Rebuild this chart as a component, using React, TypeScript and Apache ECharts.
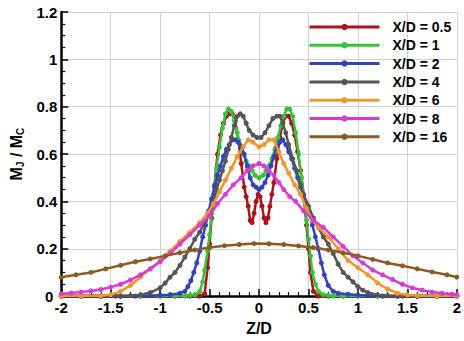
import React, { useEffect, useRef } from "react";
import * as echarts from "echarts";

const seriesNames = ["X/D = 0.5", "X/D = 1", "X/D = 2", "X/D = 4", "X/D = 6", "X/D = 8", "X/D = 16"];
const seriesColors = ["#a8141a", "#36c23a", "#3440c0", "#555555", "#f0962e", "#d83ad8", "#8c5a22"];

const xTicks = ["-2", "-1.5", "-1", "-0.5", "0", "0.5", "1", "1.5", "2"];
const yTicks = ["0", "0.2", "0.4", "0.6", "0.8", "1", "1.2"];

const xd05 = [
  [-2, 0], [-1.8, 0], [-1.6, 0], [-1.4, 0], [-1.2, 0], [-1.0, 0], [-0.85, 0], [-0.7, 0], [-0.6, 0],
  [-0.55, 0.01], [-0.52, 0.12], [-0.5, 0.22], [-0.48, 0.33], [-0.45, 0.47], [-0.42, 0.6], [-0.39, 0.68],
  [-0.36, 0.73], [-0.33, 0.76], [-0.3, 0.77], [-0.27, 0.77], [-0.24, 0.74], [-0.21, 0.66], [-0.18, 0.56],
  [-0.15, 0.46], [-0.13, 0.42], [-0.11, 0.38], [-0.09, 0.32], [-0.07, 0.31], [-0.05, 0.35], [-0.03, 0.4],
  [-0.01, 0.43], [0.01, 0.42], [0.03, 0.38], [0.05, 0.33], [0.07, 0.31], [0.09, 0.33], [0.11, 0.38],
  [0.13, 0.43], [0.15, 0.48], [0.18, 0.58], [0.21, 0.67], [0.24, 0.73], [0.27, 0.76], [0.3, 0.76],
  [0.33, 0.73], [0.36, 0.68], [0.39, 0.61], [0.42, 0.53], [0.45, 0.43], [0.48, 0.3], [0.5, 0.2],
  [0.52, 0.1], [0.55, 0.02], [0.6, 0], [0.7, 0], [0.85, 0], [1.0, 0], [1.2, 0], [1.4, 0], [1.6, 0], [1.8, 0], [2, 0],
];

const xd1 = [
  [-2, 0], [-1.8, 0], [-1.6, 0], [-1.4, 0], [-1.2, 0], [-1.0, 0], [-0.85, 0], [-0.75, 0], [-0.7, 0.003],
  [-0.65, 0.006], [-0.6, 0.02], [-0.57, 0.06], [-0.55, 0.11], [-0.52, 0.19], [-0.5, 0.26], [-0.48, 0.35],
  [-0.46, 0.43], [-0.43, 0.54], [-0.4, 0.63], [-0.37, 0.71], [-0.34, 0.77], [-0.31, 0.79], [-0.28, 0.78],
  [-0.25, 0.74], [-0.22, 0.69], [-0.19, 0.64], [-0.16, 0.6], [-0.13, 0.57], [-0.1, 0.55], [-0.07, 0.53],
  [-0.04, 0.51], [0, 0.5], [0.04, 0.51], [0.07, 0.53], [0.1, 0.55], [0.13, 0.58], [0.16, 0.62], [0.19, 0.67],
  [0.22, 0.72], [0.25, 0.76], [0.28, 0.79], [0.31, 0.79], [0.34, 0.76], [0.37, 0.69], [0.4, 0.6],
  [0.43, 0.5], [0.46, 0.4], [0.48, 0.32], [0.5, 0.24], [0.52, 0.17], [0.54, 0.1], [0.57, 0.05], [0.6, 0.02],
  [0.65, 0.006], [0.7, 0.003], [0.75, 0], [0.85, 0], [1.0, 0], [1.2, 0], [1.4, 0], [1.6, 0], [1.8, 0], [2, 0],
];

const xd2 = [
  [-2, 0], [-1.8, 0], [-1.6, 0], [-1.4, 0], [-1.25, 0], [-1.1, 0.002], [-1.0, 0.004], [-0.9, 0.006],
  [-0.8, 0.012], [-0.75, 0.02], [-0.72, 0.04], [-0.69, 0.065], [-0.66, 0.1], [-0.63, 0.14], [-0.6, 0.19],
  [-0.57, 0.25], [-0.54, 0.3], [-0.51, 0.36], [-0.48, 0.41], [-0.45, 0.46], [-0.42, 0.51], [-0.39, 0.55],
  [-0.36, 0.59], [-0.33, 0.62], [-0.3, 0.64], [-0.27, 0.66], [-0.24, 0.66], [-0.21, 0.65], [-0.18, 0.63],
  [-0.15, 0.6], [-0.12, 0.55], [-0.09, 0.5], [-0.06, 0.47], [-0.03, 0.46], [0, 0.45], [0.03, 0.46],
  [0.06, 0.48], [0.09, 0.51], [0.12, 0.55], [0.15, 0.59], [0.18, 0.63], [0.21, 0.65], [0.24, 0.66],
  [0.27, 0.64], [0.3, 0.61], [0.33, 0.58], [0.36, 0.54], [0.39, 0.5], [0.42, 0.46], [0.45, 0.42],
  [0.48, 0.39], [0.51, 0.35], [0.54, 0.3], [0.57, 0.25], [0.6, 0.2], [0.63, 0.14], [0.66, 0.09],
  [0.7, 0.045], [0.75, 0.02], [0.8, 0.012], [0.9, 0.008], [1.0, 0.005], [1.1, 0.003], [1.25, 0],
  [1.4, 0], [1.6, 0], [1.8, 0], [2, 0],
];

const xd4 = [
  [-2, 0], [-1.8, 0], [-1.6, 0], [-1.45, 0], [-1.3, 0.002], [-1.2, 0.005], [-1.1, 0.015], [-1.0, 0.035],
  [-0.95, 0.055], [-0.9, 0.08], [-0.85, 0.1], [-0.8, 0.13], [-0.75, 0.165], [-0.7, 0.2], [-0.65, 0.24],
  [-0.6, 0.27], [-0.55, 0.31], [-0.5, 0.35], [-0.46, 0.4], [-0.43, 0.45], [-0.4, 0.49], [-0.37, 0.53],
  [-0.34, 0.57], [-0.31, 0.62], [-0.28, 0.67], [-0.25, 0.72], [-0.22, 0.76], [-0.19, 0.77], [-0.16, 0.76],
  [-0.13, 0.73], [-0.1, 0.7], [-0.06, 0.68], [-0.02, 0.67], [0.02, 0.67], [0.06, 0.69], [0.1, 0.72],
  [0.14, 0.75], [0.18, 0.76], [0.21, 0.76], [0.24, 0.73], [0.27, 0.69], [0.3, 0.64], [0.34, 0.58],
  [0.38, 0.53], [0.42, 0.47], [0.45, 0.43], [0.5, 0.38], [0.55, 0.33], [0.6, 0.29], [0.65, 0.25],
  [0.7, 0.22], [0.75, 0.18], [0.8, 0.135], [0.85, 0.1], [0.9, 0.08], [0.95, 0.06], [1.0, 0.04],
  [1.05, 0.025], [1.1, 0.015], [1.2, 0.005], [1.3, 0.002], [1.45, 0], [1.6, 0], [1.8, 0], [2, 0],
];

const xd6 = [
  [-2, 0], [-1.8, 0], [-1.6, 0.002], [-1.5, 0.006], [-1.4, 0.02], [-1.3, 0.045], [-1.2, 0.08],
  [-1.1, 0.115], [-1.0, 0.15], [-0.9, 0.19], [-0.8, 0.23], [-0.7, 0.27], [-0.6, 0.31], [-0.52, 0.35],
  [-0.46, 0.39], [-0.4, 0.44], [-0.34, 0.49], [-0.28, 0.54], [-0.22, 0.59], [-0.16, 0.63], [-0.11, 0.66],
  [-0.06, 0.65], [0, 0.63], [0.05, 0.64], [0.1, 0.66], [0.15, 0.66], [0.2, 0.61], [0.25, 0.56],
  [0.3, 0.52], [0.36, 0.47], [0.42, 0.43], [0.48, 0.37], [0.54, 0.32], [0.6, 0.29], [0.7, 0.25],
  [0.8, 0.2], [0.9, 0.15], [1.0, 0.12], [1.1, 0.09], [1.2, 0.055], [1.3, 0.03], [1.4, 0.012],
  [1.5, 0.005], [1.6, 0.002], [1.8, 0], [2, 0],
];

const xd8 = [
  [-2, 0.01], [-1.9, 0.013], [-1.8, 0.017], [-1.7, 0.022], [-1.6, 0.028], [-1.5, 0.038], [-1.4, 0.05],
  [-1.3, 0.068], [-1.2, 0.09], [-1.1, 0.115], [-1.0, 0.145], [-0.9, 0.18], [-0.8, 0.22], [-0.7, 0.26],
  [-0.6, 0.3], [-0.5, 0.34], [-0.42, 0.39], [-0.34, 0.43], [-0.26, 0.47], [-0.18, 0.5], [-0.12, 0.53],
  [-0.06, 0.55], [0, 0.56], [0.05, 0.55], [0.1, 0.53], [0.15, 0.51], [0.2, 0.48], [0.25, 0.45],
  [0.31, 0.42], [0.37, 0.4], [0.45, 0.36], [0.55, 0.32], [0.65, 0.29], [0.75, 0.25], [0.85, 0.21],
  [0.95, 0.17], [1.05, 0.14], [1.15, 0.11], [1.25, 0.09], [1.35, 0.07], [1.45, 0.05], [1.55, 0.035],
  [1.65, 0.025], [1.75, 0.017], [1.85, 0.012], [1.95, 0.008], [2, 0.006],
];

const xd16 = [
  [-2, 0.08], [-1.85, 0.09], [-1.7, 0.1], [-1.55, 0.115], [-1.4, 0.13], [-1.25, 0.145], [-1.1, 0.157],
  [-0.95, 0.17], [-0.8, 0.183], [-0.65, 0.195], [-0.5, 0.205], [-0.35, 0.213], [-0.2, 0.218],
  [-0.05, 0.222], [0.1, 0.221], [0.25, 0.218], [0.4, 0.212], [0.55, 0.205], [0.7, 0.195], [0.85, 0.183],
  [1.0, 0.17], [1.15, 0.155], [1.3, 0.14], [1.45, 0.128], [1.6, 0.115], [1.75, 0.102], [1.9, 0.09], [2, 0.08],
];

const seriesData = [xd05, xd1, xd2, xd4, xd6, xd8, xd16];

const FONT = "'Liberation Sans', Arial, sans-serif";

export default function App() {
  const ref = useRef<HTMLDivElement>(null);
  useEffect(() => {
    if (!ref.current) return;
    const chart = echarts.init(ref.current, undefined, { renderer: "svg" });
    chart.setOption({
      animation: false,
      backgroundColor: "#ffffff",
      textStyle: { fontFamily: FONT },
      grid: { left: 54, right: 7, top: 12, bottom: 35, containLabel: false },
      legend: {
        orient: "vertical",
        left: 308,
        top: 20,
        padding: 0,
        itemWidth: 70,
        itemHeight: 8,
        itemGap: 4.3,
        data: seriesNames,
        textStyle: {
          fontFamily: FONT, fontSize: 14, lineHeight: 14, fontWeight: "bold", color: "#000",
          padding: [0, 0, 0, 8],
        },
        lineStyle: { width: 3 },
      },
      xAxis: {
        type: "value",
        min: -2,
        max: 2,
        interval: 0.5,
        name: "Z/D",
        nameLocation: "middle",
        nameGap: 19,
        nameTextStyle: { fontFamily: FONT, fontSize: 16, fontWeight: "bold", color: "#000" },
        axisLine: { show: true, onZero: false, lineStyle: { color: "#000", width: 2.5 } },
        axisTick: { show: true, inside: true, length: 7, lineStyle: { color: "#000", width: 1.5 } },
        minorTick: { show: true, splitNumber: 5, length: 4, lineStyle: { color: "#000", width: 1.2 } },
        splitLine: { show: true, lineStyle: { color: "#d2d2d2", width: 1 } },
        axisLabel: {
          fontFamily: FONT, fontSize: 15, fontWeight: "bold", color: "#000", margin: 4,
          formatter: (v: number) => xTicks[Math.round((v + 2) / 0.5)] ?? String(v),
        },
      },
      yAxis: {
        type: "value",
        min: 0,
        max: 1.2,
        interval: 0.2,
        name: "{b|M}{s|J}{b| / M}{s|C}",
        nameLocation: "middle",
        nameGap: 29,
        nameTextStyle: {
          fontFamily: FONT, fontSize: 16, fontWeight: "bold", color: "#000",
          rich: {
            b: { fontFamily: FONT, fontSize: 16, fontWeight: "bold", color: "#000" },
            s: { fontFamily: FONT, fontSize: 10, fontWeight: "bold", color: "#000", padding: [9, 0, 0, 0] },
          },
        },
        axisLine: { show: true, onZero: false, lineStyle: { color: "#000", width: 2.5 } },
        axisTick: { show: true, inside: true, length: 7, lineStyle: { color: "#000", width: 1.5 } },
        minorTick: { show: true, splitNumber: 4, length: 4, lineStyle: { color: "#000", width: 1.2 } },
        splitLine: { show: true, lineStyle: { color: "#d2d2d2", width: 1 } },
        axisLabel: {
          fontFamily: FONT, fontSize: 15, fontWeight: "bold", color: "#000", margin: 4,
          formatter: (v: number) => {
            const idx = Math.round(v / 0.2);
            const t = yTicks[idx] ?? String(v);
            return idx === 0 ? "{z|" + t + "}" : t;
          },
          rich: {
            z: { fontFamily: FONT, fontSize: 15, fontWeight: "bold", color: "#000", padding: [0, 4, 0, 0] },
          },
        },
      },
      series: seriesNames.map((name, i) => ({
        name,
        type: "line",
        data: seriesData[i],
        color: seriesColors[i],
        symbol: "circle",
        symbolSize: 5,
        showAllSymbol: true,
        lineStyle: { width: 2.5, color: seriesColors[i] },
        itemStyle: { color: seriesColors[i] },
        z: 2 + i,
      })),
    });
    return () => chart.dispose();
  }, []);
  return <div ref={ref} style={{ width: 464, height: 341, position: "absolute", left: 0, top: 0 }} />;
}
